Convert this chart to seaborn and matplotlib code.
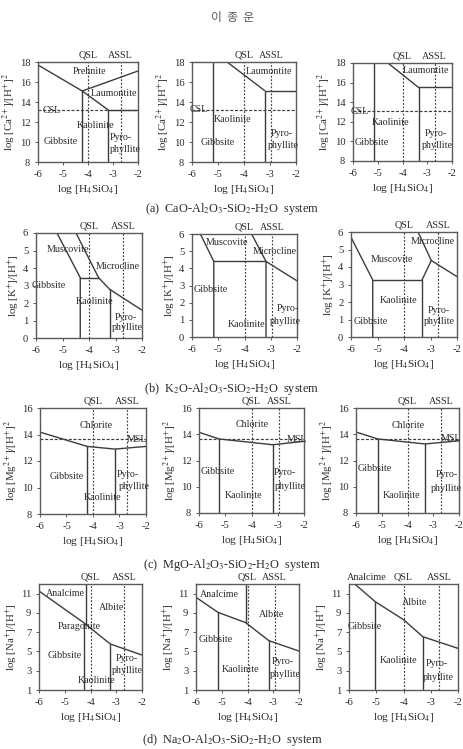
import matplotlib
matplotlib.use("Agg")
import matplotlib.pyplot as plt
import seaborn as sns

# ---- shared values -------------------------------------------------------
x_ticks = [-6, -5, -4, -3, -2]
qsl = -4.0
assl_side = -2.7
assl_mid = -2.95

ca_ticks = [8, 10, 12, 14, 16, 18]
k_ticks = [0, 1, 2, 3, 4, 5, 6]
mg_ticks = [8, 10, 12, 14, 16]
na_ticks = [1, 3, 5, 7, 9, 11]

csl = [13.2, 13.2, 13.1]
msl = [13.65, 13.64, 13.66]

captions = [
    r"(a)  CaO-Al$_2$O$_3$-SiO$_2$-H$_2$O  system",
    r"(b)  K$_2$O-Al$_2$O$_3$-SiO$_2$-H$_2$O  system",
    r"(c)  MgO-Al$_2$O$_3$-SiO$_2$-H$_2$O  system",
    r"(d)  Na$_2$O-Al$_2$O$_3$-SiO$_2$-H$_2$O  system",
]

# ---- boundaries: (x list, y list) ----------------------------------------
ca1_lines = [([-6, -4.23, -3.19], [17.7, 15.1, 13.2]),
             ([-4.23, -2], [15.1, 17.1]),
             ([-4.23, -4.23], [8, 15.1]),
             ([-3.19, -3.19, -2], [8, 13.2, 13.2])]
ca2_lines = [([-5.19, -5.19], [8, 18]),
             ([-4.65, -3.2], [18, 15.13]),
             ([-3.2, -3.2, -2], [8, 15.13, 15.13])]
ca3_lines = [([-5.16, -5.16], [8, 18]),
             ([-4.59, -3.35], [18, 15.5]),
             ([-3.35, -3.35, -2], [8, 15.5, 15.5])]

k1_lines = [([-5.21, -4.33, -4.33], [6, 3.45, 0]),
            ([-4.33, -3.64], [3.45, 3.45]),
            ([-4.49, -3.64, -3.22, -2], [6, 3.45, 2.78, 1.59]),
            ([-3.22, -3.22], [0, 2.78])]
k2_lines = [([-5.68, -5.17, -5.17], [6, 4.4, 0]),
            ([-5.17, -3.18], [4.4, 4.4]),
            ([-3.73, -3.18, -3.18], [6, 4.4, 0]),
            ([-3.18, -2], [4.4, 3.27])]
k3_lines = [([-6, -5.18, -5.18], [5.7, 3.26, 0]),
            ([-5.18, -3.32, -3.32], [3.26, 3.26, 0]),
            ([-3.32, -2.97], [3.26, 4.37]),
            ([-3.47, -2.97, -2], [6, 4.37, 3.45])]

mg1_lines = [([-6, -4.22, -3.17, -2], [14.18, 13.1, 12.9, 13.1]),
             ([-4.22, -4.22], [8, 13.1]),
             ([-3.17, -3.17], [8, 12.9])]
mg2_lines = [([-6, -5.23, -3.19, -2], [14.15, 13.64, 13.2, 13.46]),
             ([-5.23, -5.23], [8, 13.64]),
             ([-3.19, -3.19], [8, 13.2])]
mg3_lines = [([-6, -5.15, -3.32, -2], [14.17, 13.64, 13.26, 13.5]),
             ([-5.15, -5.15], [8, 13.64]),
             ([-3.32, -3.32], [8, 13.26])]

na1_lines = [([-6, -4.27, -3.23, -2], [11.27, 8.0, 5.77, 4.63]),
             ([-4.18, -4.18], [12, 7.88]),
             ([-4.27, -4.27], [1, 8.0]),
             ([-3.23, -3.23], [1, 5.77])]
na2_lines = [([-6, -5.15, -4.07, -3.17, -2], [10.62, 9.06, 7.99, 6.12, 5.04]),
             ([-4.07, -4.07], [12, 7.99]),
             ([-5.15, -5.15], [1, 9.06]),
             ([-3.17, -3.17], [1, 6.12])]
na3_lines = [([-5.79, -5.04, -4.0, -3.29, -2], [12, 10.17, 8.3, 6.53, 5.32]),
             ([-5.04, -5.04], [1, 10.17]),
             ([-3.29, -3.29], [1, 6.53])]

# ---- field names: (text, x, y, align) ------------------------------------
ca1_labels = [("Prehnite", -3.95, 17.0, "center"), ("Laumontite", -2.95, 14.8, "center"),
              ("Kaolinite", -3.7, 11.7, "center"), ("Gibbsite", -5.1, 10.1, "center"),
              ("Pyro-", -2.7, 10.4, "center"), ("phyllite", -2.5, 9.2, "center"),
              ("CSL", -5.45, 13.15, "center")]
ca2_labels = [("Laumontite", -3.04, 17.1, "center"), ("Kaolinite", -4.45, 12.2, "center"),
              ("Gibbsite", -5.66, 9.93, "left"), ("Pyro-", -2.54, 10.8, "center"),
              ("phyllite", -2.5, 9.7, "center"), ("CSL", -5.73, 13.2, "center")]
ca3_labels = [("Laumontite", -3.04, 17.25, "center"), ("Kaolinite", -4.49, 11.9, "center"),
              ("Gibbsite", -5.93, 9.9, "left"), ("Pyro-", -2.66, 10.8, "center"),
              ("phyllite", -2.6, 9.6, "center"), ("CSL", -5.73, 13.1, "center")]

k1_labels = [("Muscovite", -4.8, 5.05, "center"), ("Microcline", -2.9, 4.1, "center"),
             ("Gibbsite", -5.5, 3.0, "center"), ("Kaolinite", -3.8, 2.1, "center"),
             ("Pyro-", -2.6, 1.2, "center"), ("phyllite", -2.55, 0.58, "center")]
k2_labels = [("Muscovite", -4.66, 5.5, "center"), ("Microcline", -2.83, 5.0, "center"),
             ("Gibbsite", -5.93, 2.74, "left"), ("Kaolinite", -3.94, 0.73, "center"),
             ("Pyro-", -2.36, 1.66, "center"), ("phyllite", -2.45, 0.92, "center")]
k3_labels = [("Microcline", -2.9, 5.43, "center"), ("Muscovite", -4.47, 4.4, "center"),
             ("Kaolinite", -4.22, 2.07, "center"), ("Gibbsite", -5.9, 0.9, "left"),
             ("Pyro-", -2.68, 1.54, "center"), ("phyllite", -2.65, 0.9, "center")]

mg1_labels = [("Chlorite", -3.87, 14.7, "center"), ("MSL", -2.35, 13.65, "center"),
              ("Gibbsite", -4.98, 10.8, "center"), ("Kaolinite", -3.65, 9.25, "center"),
              ("Pyro-", -2.7, 11.0, "center"), ("phyllite", -2.45, 10.1, "center")]
mg2_labels = [("Chlorite", -3.97, 14.73, "center"), ("MSL", -2.28, 13.6, "center"),
              ("Gibbsite", -5.94, 11.2, "left"), ("Kaolinite", -4.29, 9.35, "center"),
              ("Pyro-", -2.72, 11.05, "center"), ("phyllite", -2.53, 10.03, "center")]
mg3_labels = [("Chlorite", -3.97, 14.68, "center"), ("MSL", -2.3, 13.66, "center"),
              ("Gibbsite", -5.93, 11.4, "left"), ("Kaolinite", -4.22, 9.3, "center"),
              ("Pyro-", -2.49, 10.9, "center"), ("phyllite", -2.49, 9.9, "center")]

na1_labels = [("Analcime", -4.96, 11.03, "center"), ("Albite", -3.18, 9.54, "center"),
              ("Paragonite", -4.44, 7.57, "center"), ("Gibbsite", -4.99, 4.53, "center"),
              ("Kaolinite", -3.78, 1.97, "center"), ("Pyro-", -2.6, 4.28, "center"),
              ("phyllite", -2.58, 3.0, "center")]
na2_labels = [("Analcime", -5.1, 10.9, "center"), ("Albite", -3.07, 8.85, "center"),
              ("Gibbsite", -5.9, 6.2, "left"), ("Kaolinite", -4.29, 3.14, "center"),
              ("Pyro-", -2.62, 3.94, "center"), ("phyllite", -2.55, 2.66, "center")]
na3_labels = [("Albite", -3.59, 10.1, "center"), ("Gibbsite", -5.43, 7.57, "center"),
              ("Kaolinite", -4.2, 4.1, "center"), ("Pyro-", -2.77, 3.77, "center"),
              ("phyllite", -2.73, 2.31, "center")]

# ---- style ---------------------------------------------------------------
sns.set_theme(style="ticks")
plt.rcParams["font.family"] = ["Liberation Serif", "DejaVu Serif"]
plt.rcParams["mathtext.fontset"] = "stix"

LINE = "#3c3c3c"
AXC = "#5a5a5a"
TXT = "#2a2a2a"

W, H = 463, 749
fig = plt.figure(figsize=(W / 100, H / 100), dpi=100)
fig.patch.set_facecolor("white")


def px_axes(l, t, r, b):
    return fig.add_axes([l / W, 1 - b / H, (r - l) / W, (b - t) / H])


def draw_panel(ax, lines, labels, ylim, yticks, ylabel, assl,
               hline=None, top_extra=None):
    ax.set_facecolor("white")
    for xs, ys in lines:
        sns.lineplot(x=xs, y=ys, sort=False, estimator=None, ax=ax,
                     color=LINE, linewidth=1.0, legend=False)
    # silica saturation lines
    for xv in (qsl, assl):
        ax.axvline(xv, color=LINE, linewidth=0.85, linestyle=(0, (1.5, 1.5)))
    if hline is not None:
        ax.axhline(hline, color=LINE, linewidth=0.85, linestyle=(0, (2.5, 1.5)))
    for txt, x, y, ha in labels:
        ax.text(x, y, txt, ha=ha, va="center", fontsize=7.2, color=TXT)
    ann = [("QSL", qsl), ("ASSL", assl)]
    if top_extra is not None:
        ann.append(top_extra)
    for txt, xv in ann:
        ax.annotate(txt, xy=(xv, 1), xycoords=("data", "axes fraction"),
                    xytext=(0, 1.5), textcoords="offset points",
                    ha="center", va="bottom", fontsize=7.3, color=TXT)
    ax.set_xlim(-6, -2)
    ax.set_ylim(*ylim)
    ax.set_xticks(x_ticks)
    ax.set_xticklabels([str(t) for t in x_ticks])
    ax.set_yticks(yticks)
    ax.set_xlabel(r"log [H$_4$SiO$_4$]", fontsize=8.2, color=TXT, labelpad=3)
    ax.set_ylabel(ylabel, fontsize=7.8, color=TXT, labelpad=1)
    ax.tick_params(axis="both", direction="out", length=2.5, width=0.7,
                   colors=AXC, labelsize=7.6, labelcolor=TXT, pad=3)
    for sp in ax.spines.values():
        sp.set_visible(True)
        sp.set_color(AXC)
        sp.set_linewidth(1.0)
    ax.grid(False)


ca_label = r"log [Ca$^{2+}$]/[H$^{+}$]$^{2}$"
k_label = r"log [K$^{+}$]/[H$^{+}$]"
mg_label = r"log [Mg$^{2+}$]/[H$^{+}$]$^{2}$"
na_label = r"log [Na$^{+}$]/[H$^{+}$]"

# row (a)
draw_panel(px_axes(38, 62, 138, 162), ca1_lines, ca1_labels, (8, 18), ca_ticks,
           ca_label, assl_side, csl[0])
draw_panel(px_axes(192, 62, 296, 162), ca2_lines, ca2_labels, (8, 18), ca_ticks,
           ca_label, assl_mid, csl[1])
draw_panel(px_axes(353, 63, 452, 161), ca3_lines, ca3_labels, (8, 18), ca_ticks,
           ca_label, assl_side, csl[2])

# row (b)
draw_panel(px_axes(36, 233, 142, 338), k1_lines, k1_labels, (0, 6), k_ticks,
           k_label, assl_side)
draw_panel(px_axes(192, 234, 297, 337), k2_lines, k2_labels, (0, 6), k_ticks,
           k_label, assl_mid)
draw_panel(px_axes(351, 232, 457, 337), k3_lines, k3_labels, (0, 6), k_ticks,
           k_label, assl_side)

# row (c)
draw_panel(px_axes(40, 408, 146, 514), mg1_lines, mg1_labels, (8, 16), mg_ticks,
           mg_label, assl_side, msl[0])
draw_panel(px_axes(199, 408, 304, 513), mg2_lines, mg2_labels, (8, 16), mg_ticks,
           mg_label, assl_mid, msl[1])
draw_panel(px_axes(356, 408, 459, 513), mg3_lines, mg3_labels, (8, 16), mg_ticks,
           mg_label, assl_side, msl[2])

# row (d)
draw_panel(px_axes(39, 584, 142, 690), na1_lines, na1_labels, (1, 12), na_ticks,
           na_label, assl_side)
draw_panel(px_axes(196, 584, 299, 690), na2_lines, na2_labels, (1, 12), na_ticks,
           na_label, assl_mid)
draw_panel(px_axes(349, 584, 458, 690), na3_lines, na3_labels, (1, 12), na_ticks,
           na_label, assl_side, top_extra=("Analcime", -5.34))

# captions and running header
for cap, y in zip(captions, [209, 389, 565, 740]):
    fig.text(232 / W, 1 - y / H, cap, ha="center", va="center",
             fontsize=8.8, color=TXT)
fig.text(233 / W, 1 - 18 / H, "이  종  운", ha="center", va="center",
         fontsize=8.5, color="#555555", family=["Noto Sans CJK KR", "DejaVu Sans"])

fig.savefig("out.png", dpi=100, facecolor="white")
